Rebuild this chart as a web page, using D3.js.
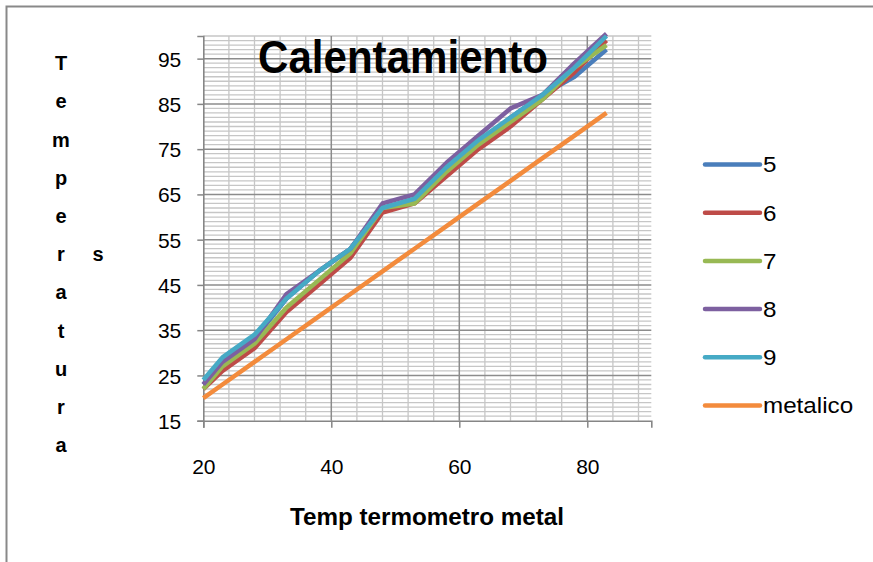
<!DOCTYPE html>
<html><head><meta charset="utf-8">
<script src="https://cdn.jsdelivr.net/npm/d3@7"></script>
<style>html,body{margin:0;padding:0;background:#fff;}</style>
</head><body>
<script>
// ---- data ----
const xValues   = [20, 23, 28, 33, 38, 43, 48, 53, 58, 63, 68, 73, 78, 83];
const serie5    = [23, 28, 33, 42, 48, 53, 62, 64, 71, 76, 82, 87, 91, 97];
const serie6    = [22, 26, 31, 39, 45, 51, 61, 63, 69, 75, 80, 86, 92, 99];
const serie7    = [22, 27, 32, 40, 46, 52, 62, 63, 70, 76, 81, 86, 93, 98];
const serie8    = [23, 28, 33, 43, 48, 53, 63, 65, 72, 78, 84, 87, 94, 100.5];
const serie9    = [24, 29, 34, 42, 48, 53, 62, 64, 71, 77, 82, 87, 93, 100];
const metalico  = [20, 23, 28, 33, 38, 43, 48, 53, 58, 63, 68, 73, 78, 83];
const seriesNames = ["5", "6", "7", "8", "9", "metalico"];
const xTicks = [20, 40, 60, 80];
const yTicks = [15, 25, 35, 45, 55, 65, 75, 85, 95];
const chartTitle = "Calentamiento";
const xTitle = "Temp termometro metal";
const yTitle = "Temperaturas";

const colors = ["#4A7EBB", "#BE4B48", "#98B954", "#7D60A0", "#46AAC5", "#F38B3C"];
const allSeries = [serie5, serie6, serie7, serie8, serie9, metalico];

const W = 873, H = 562;
const svg = d3.select("body").append("svg").attr("width", W).attr("height", H);
svg.append("rect").attr("width", W).attr("height", H).attr("fill", "#fff");
// outer border
svg.append("rect").attr("x", 6.5).attr("y", 6.5).attr("width", 1000).attr("height", 1000)
  .attr("fill", "none").attr("stroke", "#898989").attr("stroke-width", 2);

const x = d3.scaleLinear().domain([20, 90]).range([203.3, 651.3]);
const y = d3.scaleLinear().domain([15, 100]).range([420.7, 36]);

const sans = "'Liberation Sans',Arial,sans-serif";

// grid
const g = svg.append("g");
const minorX = d3.range(24, 90, 4).filter(v => v % 20 !== 0);
const minorY = d3.range(16, 101, 1).filter(v => (v - 15) % 10 !== 0);
g.selectAll(".mx").data(minorX).join("line")
  .attr("x1", d => x(d)).attr("x2", d => x(d)).attr("y1", y(100)).attr("y2", y(15))
  .attr("stroke", "#c6c6c6").attr("stroke-width", 1.3);
g.selectAll(".my").data(minorY).join("line")
  .attr("x1", x(20)).attr("x2", x(90)).attr("y1", d => y(d)).attr("y2", d => y(d))
  .attr("stroke", "#c6c6c6").attr("stroke-width", 1.3);
g.selectAll(".Mx").data(xTicks.slice(1)).join("line")
  .attr("x1", d => x(d)).attr("x2", d => x(d)).attr("y1", y(100)).attr("y2", y(15))
  .attr("stroke", "#8c8c8c").attr("stroke-width", 1.5);
g.selectAll(".My").data(yTicks.slice(1)).join("line")
  .attr("x1", x(20)).attr("x2", x(90)).attr("y1", d => y(d)).attr("y2", d => y(d))
  .attr("stroke", "#8c8c8c").attr("stroke-width", 1.5);

// axes
const xAxis = svg.append("g").attr("transform", `translate(0,${y(15)})`)
  .call(d3.axisBottom(x).tickValues(xTicks).tickSize(7).tickPadding(24).tickFormat(d3.format("d")));
const yAxis = svg.append("g").attr("transform", `translate(${x(20)},0)`)
  .call(d3.axisLeft(y).tickValues(yTicks).tickSize(6).tickPadding(16).tickFormat(d3.format("d")));
[xAxis, yAxis].forEach(a => {
  a.select(".domain").attr("stroke", "#868686").attr("stroke-width", 1.6);
  a.selectAll(".tick line").attr("stroke", "#868686").attr("stroke-width", 1.5);
  a.selectAll(".tick text").attr("font-family", sans).attr("font-size", 21).attr("fill", "#000");
});
xAxis.selectAll(".tick text").attr("dy", "0.34em").attr("y", 46);
yAxis.selectAll(".tick text").attr("dy", "0.36em");

// lines
const line = d3.line().x((d, i) => x(xValues[i])).y(d => y(d));
svg.append("g").selectAll("path").data(allSeries).join("path")
  .attr("d", d => line(d)).attr("fill", "none")
  .attr("stroke", (d, i) => colors[i]).attr("stroke-width", 4.5)
  .attr("stroke-linejoin", "round");

// title
svg.append("text").attr("x", 403).attr("y", 73).attr("text-anchor", "middle")
  .attr("font-family", sans).attr("font-weight", "bold").attr("font-size", 47)
  .attr("textLength", 290).attr("lengthAdjust", "spacingAndGlyphs")
  .text(chartTitle);

// x title
svg.append("text").attr("x", 427).attr("y", 525).attr("text-anchor", "middle")
  .attr("font-family", sans).attr("font-weight", "bold").attr("font-size", 23)
  .attr("textLength", 274).attr("lengthAdjust", "spacingAndGlyphs")
  .text(xTitle);

// y title: stacked letters, last letter in a second column
const letters = yTitle.slice(0, -1).split("");
svg.append("g").selectAll("text").data(letters).join("text")
  .attr("x", 61).attr("y", (d, i) => 63 + i * 38.2).attr("dy", "0.36em")
  .attr("text-anchor", "middle").attr("font-family", sans)
  .attr("font-weight", "bold").attr("font-size", 20).text(d => d);
svg.append("text").attr("x", 98).attr("y", 63 + 5 * 38.2).attr("dy", "0.36em")
  .attr("text-anchor", "middle").attr("font-family", sans)
  .attr("font-weight", "bold").attr("font-size", 20).text(yTitle.slice(-1));

// legend
const ly = d3.scaleLinear().domain([0, 5]).range([164.5, 405.5]);
const leg = svg.append("g").selectAll("g").data(seriesNames).join("g")
  .attr("transform", (d, i) => `translate(0,${ly(i)})`);
leg.append("line").attr("x1", 705).attr("x2", 760).attr("y1", 0).attr("y2", 0)
  .attr("stroke", (d, i) => colors[i]).attr("stroke-width", 4.5).attr("stroke-linecap", "round");
leg.append("text").attr("x", 763).attr("y", 0).attr("dy", "0.36em")
  .attr("font-family", sans).attr("font-size", 22).text(d => d)
  .each(function () {
    const w = this.getComputedTextLength();
    d3.select(this).attr("textLength", w * 1.1).attr("lengthAdjust", "spacingAndGlyphs");
  });
</script>
</body></html>
